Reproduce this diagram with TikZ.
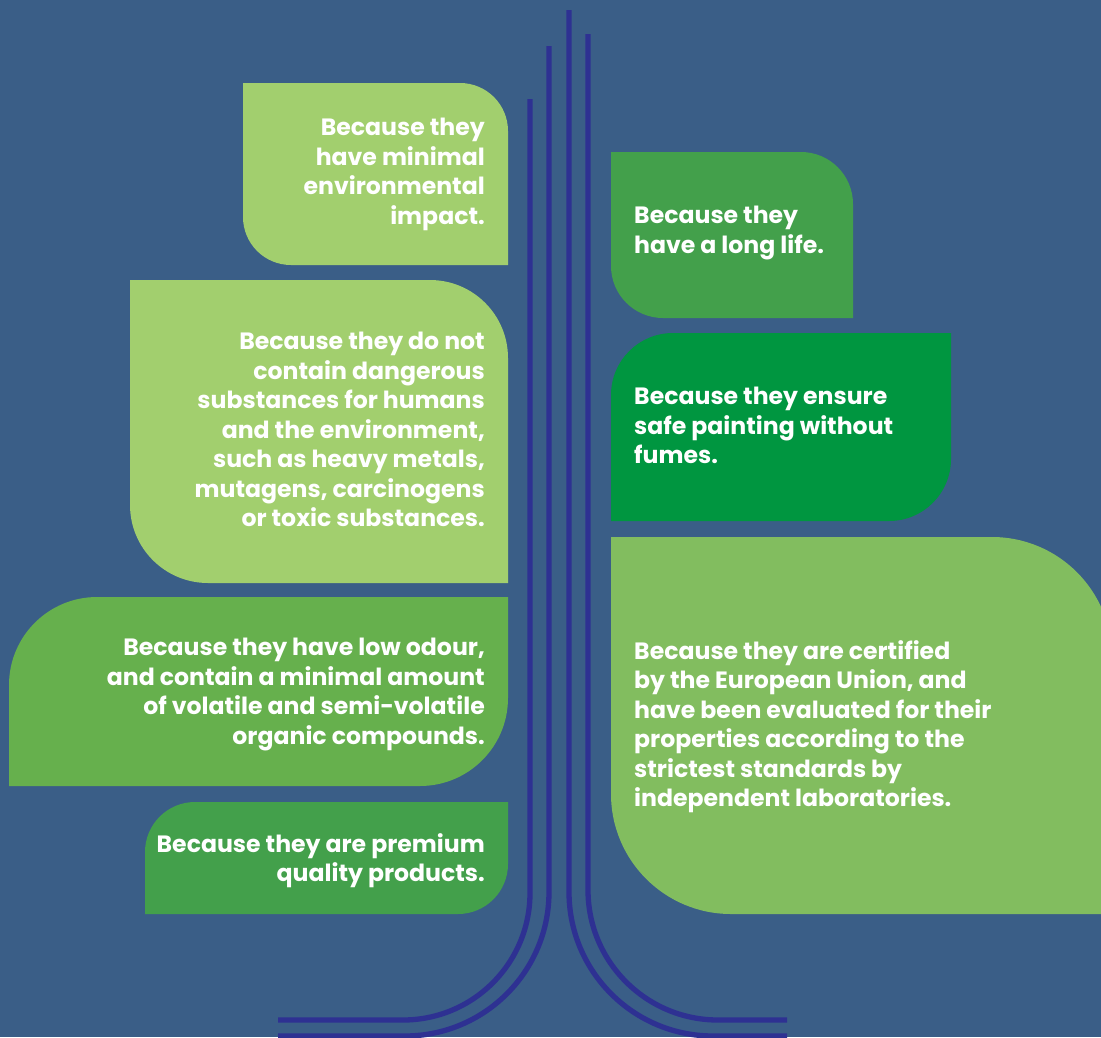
\documentclass[tikz,border=0pt]{standalone}
\usepackage{fontspec}
\setmainfont{Poppins}
\usepackage{tikz}

\definecolor{bgblue}{HTML}{3A5E87}
\definecolor{trunk}{HTML}{2E3192}
\definecolor{leafpale}{HTML}{A2CF6E}
\definecolor{leafmid}{HTML}{66B04D}
\definecolor{leafgreen}{HTML}{43A04B}
\definecolor{leafdeep}{HTML}{009640}
\definecolor{leafsoft}{HTML}{82BD5F}

% leaf: colour, left, top, right, bottom, radius (top and bottom given downwards)
\newcommand{\leafne}[6]{\fill[#1] (#2,-#3) -- ({#4-#6},-#3) arc[start angle=90, end angle=0, radius=#6pt] -- (#4,-#5) -- ({#2+#6},-#5) arc[start angle=-90, end angle=-180, radius=#6pt] -- cycle;}
\newcommand{\leafnw}[6]{\fill[#1] ({#2+#6},-#3) -- (#4,-#3) -- (#4,{-#5+#6}) arc[start angle=0, end angle=-90, radius=#6pt] -- (#2,-#5) -- (#2,{-#3-#6}) arc[start angle=180, end angle=90, radius=#6pt] -- cycle;}

\tikzset{
  lefttext/.style = {anchor = north east, align = right, inner sep = 0pt, text = white, font = \bfseries\fontsize{23.6}{29.5}\selectfont},
  righttext/.style = {lefttext, anchor = north west, align = left},
  trunkline/.style = {draw = trunk, line width = 5.3pt, rounded corners = #1},
}

\begin{document}
\begin{tikzpicture}[x = 1pt, y = 1pt]
\useasboundingbox (0,0) rectangle (1101,-1037);
\clip (0,0) rectangle (1101,-1037);
\fill[bgblue] (0,0) rectangle (1101,-1037);

% leaves on the left
\leafne{leafpale}{243}{83}{508}{265}{48}
\leafne{leafpale}{130}{280}{508}{583}{78}
\leafnw{leafmid}{9}{597}{508}{786}{88}
\leafnw{leafgreen}{145}{802}{508}{914}{50}
% leaves on the right
\leafne{leafgreen}{611}{152}{853}{318}{52}
\leafnw{leafdeep}{611}{333}{951}{521}{62}
\leafne{leafsoft}{611}{537}{1112}{914}{120}

% trunk
\coordinate (a1) at (530,-99);   \coordinate (a2) at (530,-1020);  \coordinate (a3) at (278,-1020);
\coordinate (b1) at (549,-46);   \coordinate (b2) at (549,-1036);  \coordinate (b3) at (278,-1036);
\coordinate (c1) at (569,-10);   \coordinate (c2) at (569,-1036);  \coordinate (c3) at (787,-1036);
\coordinate (d1) at (588,-34);   \coordinate (d2) at (588,-1020);  \coordinate (d3) at (787,-1020);
\draw[trunkline = 127pt] (a1) -- (a2) -- (a3);
\draw[trunkline = 144pt] (b1) -- (b2) -- (b3);
\draw[trunkline = 144pt] (c1) -- (c2) -- (c3);
\draw[trunkline = 130pt] (d1) -- (d2) -- (d3);

% texts
\node[lefttext] (impact) at (485,-118) {Because they\\ have minimal\\ environmental\\ impact.};
\node[lefttext] (danger) at (485,-332) {Because they do not\\ contain dangerous\\ substances for humans\\ and the environment,\\ such as heavy metals,\\ mutagens, carcinogens\\ or toxic substances.};
\node[lefttext] (odour) at (485,-638) {Because they have low odour,\\ and contain a minimal amount\\ of volatile and semi-volatile\\ organic compounds.};
\node[lefttext] (premium) at (485,-833) {Because they are premium\\ quality products.};
\node[righttext] (life) at (634,-206) {Because they\\ have a long life.};
\node[righttext] (fumes) at (634,-387) {Because they ensure\\ safe painting without\\ fumes.};
\node[righttext] (certified) at (634,-640) {Because they are certified\\ by the European Union, and\\ have been evaluated for their\\ properties according to the\\ strictest standards by\\ independent laboratories.};
\end{tikzpicture}
\end{document}
